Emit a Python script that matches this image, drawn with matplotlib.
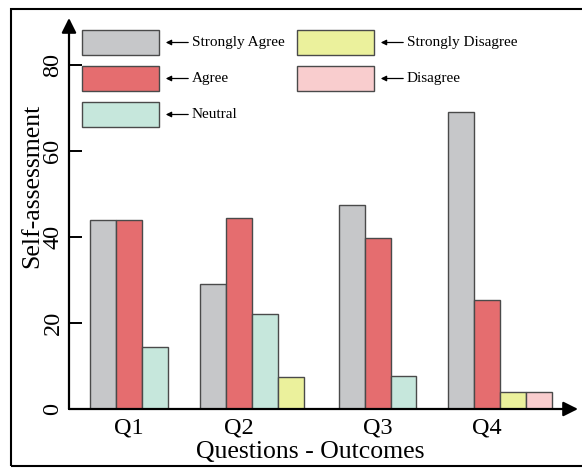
import matplotlib
matplotlib.use("Agg")
from matplotlib import pyplot as plt
from matplotlib.patches import Rectangle, FancyArrowPatch

plt.rcParams['font.family'] = ['Liberation Serif', 'DejaVu Serif']

# data
questions = ['Q1', 'Q2', 'Q3', 'Q4']
series = ['Strongly Agree', 'Agree', 'Neutral', 'Strongly Disagree', 'Disagree']
strongly_agree = [44, 29, 47.5, 69]
agree = [44, 44.3, 39.8, 25.3]
neutral = [14.4, 22.1, 7.7, 0]
strongly_disagree = [0, 7.4, 0, 4.0]
disagree = [0, 0, 0, 4.0]
colors = ['#c6c7c9', '#e56d6f', '#c6e7dc', '#ebf19c', '#f9cdce']

values = [strongly_agree, agree, neutral, strongly_disagree, disagree]

W, H = 582, 469
fig = plt.figure(figsize=(W / 100, H / 100), dpi=100)


def fx(x):
    return x / W


def fy(y):
    return 1 - y / H


# border round the whole picture
fig.patches.append(Rectangle((fx(11), fy(466)), fx(585) - fx(11), fy(9) - fy(466),
                             transform=fig.transFigure, fill=False, lw=1.5, ec='black'))

ax = fig.add_axes([fx(69), fy(409), fx(578) - fx(69), fy(18) - fy(409)])
for s in ax.spines.values():
    s.set_visible(False)

ax.set_xlim(0, 19.6)
ax.set_ylim(0, 90.9)

# group centres (uneven gaps in the original); zero bars are left out
group_pos = [2.31, 6.54, 11.88, 16.08]
bw = 1.0
for g, q in enumerate(questions):
    start = group_pos[g] - 1.5 * bw
    k = 0
    for i in range(len(series)):
        v = values[i][g]
        if v <= 0:
            continue
        ax.bar(start + k * bw + bw / 2, v, width=bw, color=colors[i],
               edgecolor='#4a4a4a', linewidth=1.0, zorder=2)
        k += 1

# axes with arrow heads
ax.annotate('', xy=(1.0, 0), xytext=(0, 0), xycoords='axes fraction',
            arrowprops=dict(arrowstyle='-|>', lw=1.6, color='black', mutation_scale=22,
                            shrinkA=0, shrinkB=0), annotation_clip=False, zorder=5)
ax.annotate('', xy=(0, 1.0), xytext=(0, 0), xycoords='axes fraction',
            arrowprops=dict(arrowstyle='-|>', lw=1.6, color='black', mutation_scale=22,
                            shrinkA=0, shrinkB=0), annotation_clip=False, zorder=5)

ax.set_xticks(group_pos)
ax.set_xticklabels(questions, fontsize=17.5)
ax.tick_params(axis='x', length=0, pad=6)
ax.set_yticks([0, 20, 40, 60, 80])
ax.tick_params(axis='y', direction='in', length=9, width=1.4, pad=4, labelsize=17.5)
for lab in ax.get_yticklabels():
    lab.set_rotation(90)
    lab.set_va('center')

fig.text(fx(310), fy(452), 'Questions - Outcomes', fontsize=18.5, ha='center', va='center')
fig.text(fx(32), fy(186), 'Self-assessment', fontsize=18.5, ha='center', va='center', rotation=90)

# hand drawn legend
leg = [(0, 82, 30), (1, 82, 66), (2, 82, 102), (3, 297, 30), (4, 297, 66)]
for i, x0, y0 in leg:
    fig.patches.append(Rectangle((fx(x0), fy(y0 + 25)), fx(77), fy(0) - fy(25),
                                 transform=fig.transFigure, facecolor=colors[i],
                                 edgecolor='#4a4a4a', lw=1.0))
    fig.add_artist(FancyArrowPatch(
        (fx(x0 + 109), fy(y0 + 12.5)), (fx(x0 + 81), fy(y0 + 12.5)),
        transform=fig.transFigure, arrowstyle='-|>', mutation_scale=8, lw=0.9, color='black'))
    fig.text(fx(x0 + 110), fy(y0 + 12.5), series[i], fontsize=11, ha='left', va='center')

fig.savefig('out.png', dpi=100)
